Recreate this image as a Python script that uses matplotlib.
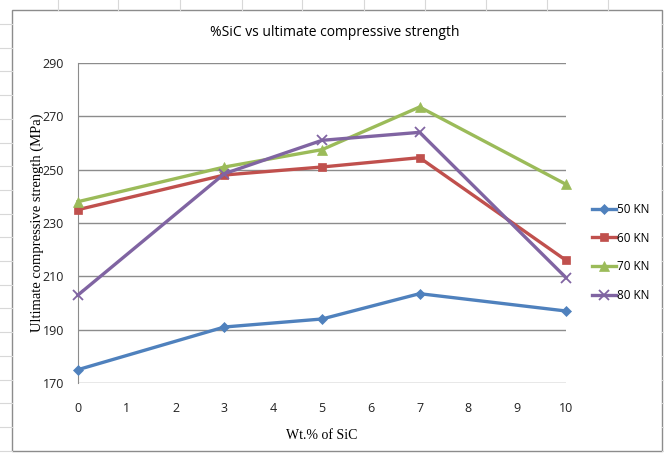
import numpy as np
import matplotlib
matplotlib.use("Agg")
import matplotlib.pyplot as plt
from matplotlib.lines import Line2D
from matplotlib.patches import Rectangle

# data
wt_sic = [0, 3, 5, 7, 10]
kn50 = [175, 191, 194, 203.5, 197]
kn60 = [235, 248, 251, 254.5, 216]
kn70 = [238, 251, 257.5, 273.5, 244.5]
kn80 = [203, 248.5, 261, 264, 209.5]
series_names = ["50 KN", "60 KN", "70 KN", "80 KN"]
y_ticks = [170, 190, 210, 230, 250, 270, 290]
x_ticks = list(range(0, 11))

colors = ["#4F81BD", "#C0504D", "#9BBB59", "#8064A2"]
markers = ["D", "s", "^", "x"]
msizes = [5, 6, 7, 7]

W, H = 664, 453
fig = plt.figure(figsize=(W / 100, H / 100), dpi=100)
fig.patch.set_facecolor("white")

# faint spreadsheet cells behind the chart
for x in [58, 118, 180, 242, 302, 364, 425, 486, 547, 608]:
    fig.add_artist(Line2D([x / W, x / W], [1 - 0 / H, 1 - 10 / H],
                          color="#d8d8d8", lw=0.8))
for y in np.arange(24, 453, 23.7):
    fig.add_artist(Line2D([0, 12 / W], [1 - y / H, 1 - y / H],
                          color="#d8d8d8", lw=0.8))
    fig.add_artist(Line2D([662 / W, 1], [1 - y / H, 1 - y / H],
                          color="#d8d8d8", lw=0.8))

# chart area border
fig.add_artist(Rectangle((12 / W, 1 - 451 / H), 650 / W, 441 / H,
                         fill=False, edgecolor="#8c8c8c", lw=1.0))

ax = fig.add_axes([78 / W, 1 - 383 / H, (566 - 78) / W, (383 - 63) / H])

all_series = [kn50, kn60, kn70, kn80]
for vals, name, c, m, ms in zip(all_series, series_names, colors, markers, msizes):
    ax.plot(wt_sic, vals, color=c, lw=2.4, marker=m, markersize=ms,
            markeredgecolor=c, markeredgewidth=1.3 if m == "x" else 0.5,
            label=name, clip_on=False, zorder=3)

ax.set_xlim(0, 10)
ax.set_ylim(170, 290)
ax.set_xticks(x_ticks)
ax.set_yticks(y_ticks)
ax.grid(axis="y", color="#8c8c8c", lw=1.0)
ax.set_axisbelow(True)
for s in ["top", "right", "bottom"]:
    ax.spines[s].set_visible(False)
ax.spines["left"].set_color("#8c8c8c")
ax.tick_params(length=0, labelsize=9)
ax.tick_params(axis="x", pad=14)
ax.tick_params(axis="y", pad=10)
for lab in ax.get_xticklabels() + ax.get_yticklabels():
    lab.set_fontfamily("Open Sans")
    lab.set_color("#222222")

ax.set_xlabel("Wt.% of SiC", fontfamily="Liberation Serif", fontsize=10,
              labelpad=10)
ax.set_ylabel("Ultimate compressive strength (MPa)",
              fontfamily="Liberation Serif", fontsize=10.5, labelpad=-1)

fig.text(335 / W, 1 - 33 / H, "%SiC vs ultimate compressive strength",
         ha="center", va="center", fontfamily="Open Sans", fontsize=10)

leg = fig.legend(loc="upper left", bbox_to_anchor=(586 / W, 1 - 197 / H),
                 frameon=False, fontsize=8.5, handlelength=2.0,
                 handletextpad=0.15, labelspacing=1.33, borderpad=0)
for t in leg.get_texts():
    t.set_fontfamily("Open Sans")

fig.savefig("out.png", dpi=100)
